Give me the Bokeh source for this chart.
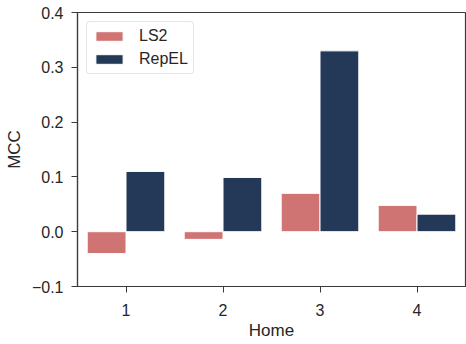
from bokeh.plotting import figure
from bokeh.models import ColumnDataSource, FactorRange, Range1d, FixedTicker, CustomJSTickFormatter, Legend, LegendItem
from bokeh.transform import dodge
from bokeh.embed import file_html
from bokeh.resources import INLINE

homes = ["1", "2", "3", "4"]
ls2 = [-0.040, -0.014, 0.070, 0.048]
repel = [0.110, 0.099, 0.330, 0.032]
yticks = [-0.1, 0.0, 0.1, 0.2, 0.3, 0.4]

src = ColumnDataSource(dict(home=homes, ls2=ls2, repel=repel))

FONT = "Liberation Sans"
TXT = "#262626"
SPINE = "#3a3a3a"

p = figure(x_range=FactorRange(factors=homes, range_padding=0), y_range=Range1d(-0.1, 0.4),
           width=466, height=344, output_backend="svg", toolbar_location=None,
           min_border_left=77, min_border_right=1, min_border_top=12, min_border_bottom=58)

r1 = p.vbar(x=dodge("home", -0.2, range=p.x_range), top="ls2", bottom=0, width=0.4, source=src,
            fill_color="#d07373", line_color="white", line_width=1)
r2 = p.vbar(x=dodge("home", 0.2, range=p.x_range), top="repel", bottom=0, width=0.4, source=src,
            fill_color="#243858", line_color="white", line_width=1)

p.grid.visible = False
p.outline_line_color = SPINE
p.outline_line_width = 1.2
p.background_fill_color = "white"

for ax in (p.xaxis[0], p.yaxis[0]):
    ax.axis_line_color = SPINE
    ax.axis_line_width = 1.2
    ax.major_tick_line_color = SPINE
    ax.major_tick_out = 6
    ax.major_tick_in = 0
    ax.minor_tick_line_color = None
    ax.major_label_text_font = FONT
    ax.major_label_text_font_size = "16px"
    ax.major_label_text_color = TXT
    ax.axis_label_text_font = FONT
    ax.axis_label_text_font_size = "17px"
    ax.axis_label_text_font_style = "normal"
    ax.axis_label_text_color = TXT

p.xaxis[0].axis_label = "Home"
p.xaxis[0].major_label_standoff = 11
p.xaxis[0].axis_label_standoff = 2
p.yaxis[0].axis_label = "MCC"
p.yaxis[0].major_label_standoff = 8
p.yaxis[0].axis_label_standoff = 5
p.yaxis[0].ticker = FixedTicker(ticks=yticks)
p.yaxis[0].formatter = CustomJSTickFormatter(code="""
const v = Math.abs(tick).toFixed(1);
return tick < -1e-9 ? "\u2212" + v : v;
""")

legend = Legend(items=[LegendItem(label="LS2", renderers=[r1]), LegendItem(label="RepEL", renderers=[r2])],
                location="top_left")
legend.label_text_font = FONT
legend.label_text_font_size = "16px"
legend.label_text_color = TXT
legend.glyph_width = 34
legend.glyph_height = 12
legend.spacing = 5
legend.padding = 5
legend.margin = 9
legend.label_standoff = 13
legend.border_line_color = "#cccccc"
legend.border_line_width = 1
legend.border_radius = 4
legend.background_fill_alpha = 0.9
p.add_layout(legend)

open("out.html", "w").write(file_html(p, INLINE))
